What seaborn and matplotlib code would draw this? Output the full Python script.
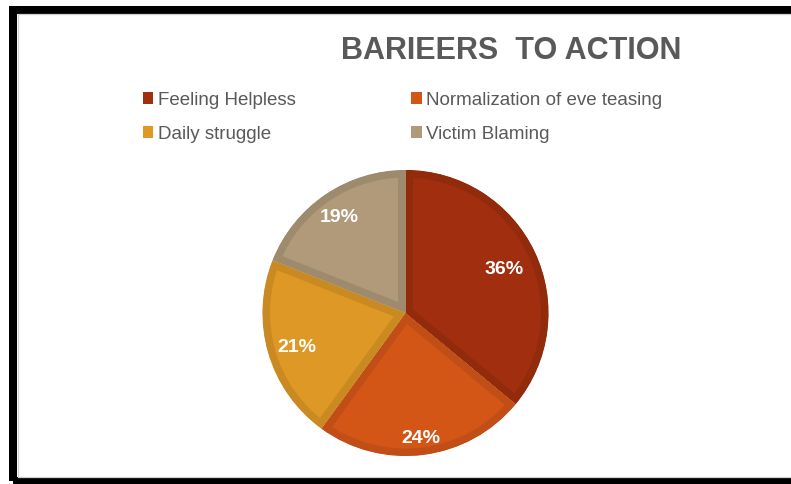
import numpy as np
import matplotlib
matplotlib.use("Agg")
import matplotlib.pyplot as plt
import matplotlib.transforms as mtransforms
from matplotlib.patches import Patch, Rectangle
import seaborn as sns

# Survey results: barriers that keep people from acting
categories = ["Feeling Helpless", "Normalization of eve teasing",
              "Daily struggle", "Victim Blaming"]
shares = [36, 24, 21, 19]
fill_colors = ["#A12E0E", "#D45616", "#DE9826", "#B09A7A"]
edge_colors = ["#922A0C", "#C04E16", "#CA8A22", "#9E8A6D"]
title = "BARIEERS  TO ACTION"

sns.set_theme(style="white")
plt.rcParams["font.family"] = ["Liberation Sans", "DejaVu Sans"]

W, H = 791, 484
fig = plt.figure(figsize=(W / 100, H / 100), dpi=100)
fig.patch.set_facecolor("white")


def fx(x):
    return x / W


def fy(y):
    return 1 - y / H


# Pie area: centre and radius in pixels
cx, cy, r = 405.5, 313.0, 143.0
pad = 1.1
ax = fig.add_axes([fx(cx - r * pad), fy(cy + r * pad), 2 * r * pad / W, 2 * r * pad / H])
palette = sns.color_palette(fill_colors)
wedges, texts, autotexts = ax.pie(
    shares, colors=palette, startangle=90, counterclock=False,
    autopct="%1.0f%%", pctdistance=0.81,
    wedgeprops=dict(linewidth=15 * 72 / 100),
    textprops=dict(color="white", fontsize=14, fontweight="bold"),
)
# Darker inner rim on each slice: stroke clipped to the slice's own outline
for w, ec in zip(wedges, edge_colors):
    w.set_edgecolor(ec)
    w.set_clip_on(True)
    w.set_clip_path(w.get_path(), w.get_transform())

# Percent labels sit at slightly different depths in each slice
label_depth = [0.76, 0.865, 0.79, 0.83]
label_tf = mtransforms.offset_copy(ax.transData, fig=fig, x=0, y=-3, units="dots")
for w, t, d in zip(wedges, autotexts, label_depth):
    ang = np.deg2rad((w.theta1 + w.theta2) / 2)
    t.set_position((d * np.cos(ang), d * np.sin(ang)))
    t.set_transform(label_tf)
    t.set_zorder(5)

ax.set_xlim(-pad, pad)
ax.set_ylim(-pad, pad)
ax.set_aspect("equal")
ax.axis("off")

# Title
fig.text(fx(511), fy(51), title, ha="center", va="center",
         fontsize=22, fontweight="bold", color="#595959")

# Legend in two columns above the pie, filled row by row
order = [0, 2, 1, 3]
handles = [Patch(facecolor=fill_colors[i], edgecolor="none") for i in order]
labels = [categories[i] for i in order]
fig.legend(handles, labels, ncol=2, loc="upper left",
           bbox_to_anchor=(fx(143), fy(91.5)), frameon=False,
           fontsize=13.5, labelcolor="#595959",
           handlelength=0.55, handleheight=0.55, handletextpad=0.25,
           columnspacing=6.15, labelspacing=0.92, borderpad=0, borderaxespad=0)

# Black frame with a thin grey inner line
fig.add_artist(Rectangle((fx(13), fy(480.5)), fx(900), fy(10) - fy(480.5),
                         transform=fig.transFigure, fill=False,
                         edgecolor="black", linewidth=8 * 0.72))
fig.add_artist(Rectangle((fx(17.5), fy(476.5)), fx(900), fy(14) - fy(476.5),
                         transform=fig.transFigure, fill=False,
                         edgecolor="#D0D0D0", linewidth=0.9))

fig.savefig("out.png", dpi=100)
